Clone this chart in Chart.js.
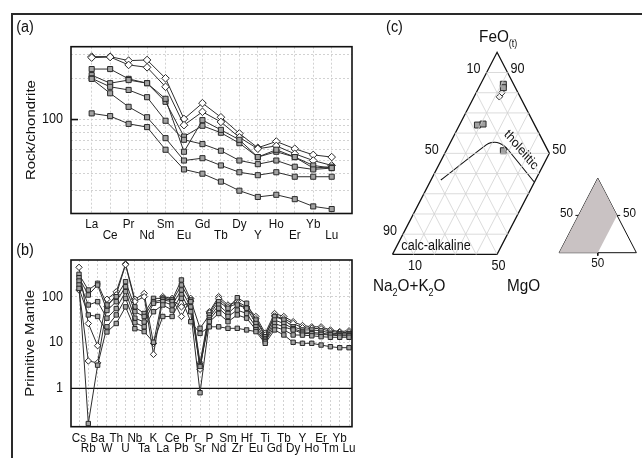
<!DOCTYPE html>
<html>
<head>
<meta charset="utf-8">
<title>REE, spider and AFM diagrams</title>
<script src="https://cdn.jsdelivr.net/npm/chart.js@4.4.1/dist/chart.umd.min.js"></script>
<style>
  html, body { margin: 0; padding: 0; background: #fff; }
  #fig { position: relative; width: 642px; height: 458px; overflow: hidden; }
  #fig canvas { position: absolute; left: 0; top: 0; }
  #frame { position: absolute; left: 11px; top: 13px; width: 700px; height: 500px;
           border-top: 2px solid #2a2a2a; border-left: 2px solid #2a2a2a; }
</style>
</head>
<body>
<div id="fig">
  <div id="frame"></div>
  <canvas id="chart-ree" width="642" height="458"></canvas>
  <canvas id="chart-pm" width="642" height="458"></canvas>
  <canvas id="chart-afm" width="642" height="458"></canvas>
</div>
<script>
// (a) chondrite normalised REE
const reeElements = ['La', 'Ce', 'Pr', 'Nd', 'Sm', 'Eu', 'Gd', 'Tb', 'Dy', 'Y', 'Ho', 'Er', 'Yb', 'Lu'];
const reeDiamond1 = [290, 290, 271, 274, 201, 101, 132, 104, 79, 62, 69, 61, 55, 53];
const reeDiamond2 = [285, 288, 252, 242, 174, 91, 114, 96, 74, 61, 64, 56, 50, 46];
const reeSquare1 = [235, 235, 199, 185, 135, 75, 90, 80, 67, 53, 58, 53, 44, 45];
const reeSquare2 = [212, 185, 195, 185, 142, 58, 99, 84, 71, 53, 60, 53, 46, 44];
const reeSquare3 = [201, 174, 165, 146, 98, 71, 66, 59, 50, 47, 50, 45, 43, 44];
const reeSquare4 = [199, 156, 124, 104, 73, 50, 52, 46, 41, 39, 41, 38, 38, 38];
const reeSquare5 = [111, 106, 93, 88, 60, 43, 40, 35, 30, 27, 28, 26, 23, 22];
const reeGridValues = [30, 40, 50, 60, 70, 80, 90, 100, 200, 300];
const reeTickLabels = [100];

// (b) primitive mantle normalised
const pmElements = ['Cs', 'Rb', 'Ba', 'W', 'Th', 'U', 'Nb', 'Ta', 'K', 'La', 'Ce', 'Pb', 'Pr', 'Sr', 'P',
  'Nd', 'Sm', 'Zr', 'Hf', 'Eu', 'Ti', 'Gd', 'Tb', 'Dy', 'Y', 'Ho', 'Er', 'Tm', 'Yb', 'Lu'];
const pmDiamond1 = [438, 26, 8.5, 88, 128, 518, 88, 118, 9.6, 100, 92, 37, 92, 3.6, 47,
  100, 66, 78, 60, 37, 16, 43, 37, 28.5, 23.5, 22, 22, 18.8, 17.3, 18];
const pmDiamond2 = [140, 3.95, 3.6, 60, 110, 500, 78, 100, 5.5, 92, 85, 60, 80, 2.6, 44,
  90, 60, 70, 56, 33, 14.5, 38, 33, 26, 21, 20.4, 20, 17.5, 16.5, 16.5];
const pmSquare1 = [308, 140, 196, 66, 100, 213, 60, 43, 92, 92, 85, 232, 85, 20.4, 40,
  78, 56, 95, 72, 31, 13.4, 37, 31, 22, 18.8, 18.8, 18, 16, 15.5, 15.5];
const pmSquare2 = [260, 109, 180, 50, 78, 165, 47, 37, 78, 85, 78, 180, 78, 3.2, 35,
  66, 43, 66, 56, 26, 12, 31, 26, 20, 17, 16.5, 16, 15, 14.6, 14.6];
const pmSquare3 = [220, 66, 78, 34, 55, 129, 34, 28, 72, 78, 66, 140, 60, 3.0, 31,
  56, 37, 51, 43, 22, 11.2, 26, 22, 18.8, 15.9, 15.5, 15, 14.6, 14, 14];
const pmSquare4 = [180, 0.17, 3.2, 22, 40, 92, 27, 22, 47, 66, 51, 110, 47, 0.8, 28.5,
  43, 28.5, 40, 34, 19, 10.5, 22, 18.8, 14.6, 14.5, 14, 13.4, 13, 13, 13];
const pmSquare5 = [152, 40, 37, 17, 26, 60, 20, 17.3, 10.1, 37, 37, 92, 28.5, 15.8, 22,
  22, 20.4, 20.4, 18.8, 17.3, 9.6, 18.8, 14.6, 10.1, 9.6, 9.6, 8.8, 8.1, 7.7, 7.7];
const pmTickLabels = [100, 10, 1];

// (c) AFM, percent Na2O+K2O (A), FeOt (F), MgO (M)
const afmSquaresA = [4.9, 5.75, 27.4, 24.45, 21.35];
const afmSquaresF = [84.2, 82.5, 64.0, 64.5, 51.3];
const afmSquaresM = [10.9, 11.75, 8.6, 11.05, 27.35];
const afmDiamondsA = [7.7, 9.9];
const afmDiamondsF = [80.0, 78.0];
const afmDiamondsM = [12.3, 12.1];
const boundaryA = [58.5, 28.1, 25.2, 22.3, 20.45, 19.1, 14.4];
const boundaryF = [36.8, 54.2, 55.3, 55.4, 54.4, 52.4, 36.0];
const boundaryM = [4.7, 17.7, 19.5, 22.3, 25.15, 28.5, 49.6];
const afmGridSteps = [10, 20, 30, 40, 50, 60, 70, 80, 90];

const INK = '#111111';
const GRID = '#d2d2d2';
const SERIES_LINE = '#2e2e2e';
const SQUARE_FILL = '#a2a2a2';
const FONT = '"Liberation Sans", Arial, sans-serif';
const SQUEEZE = 0.9; // the original artwork is a little condensed sideways

function text(ctx, s, x, y, size, align, angle) {
  ctx.save();
  ctx.translate(x, y);
  ctx.scale(SQUEEZE, 1);
  if (angle) ctx.rotate(angle);
  ctx.font = size + 'px ' + FONT;
  ctx.fillStyle = INK;
  ctx.textAlign = align || 'center';
  ctx.textBaseline = 'middle';
  ctx.fillText(s, 0, 0);
  ctx.restore();
}

// text with subscripts, x = left edge, y = baseline
function richText(ctx, parts, x, y, size) {
  ctx.save();
  ctx.translate(x, y);
  ctx.scale(SQUEEZE, 1);
  ctx.fillStyle = INK;
  ctx.textAlign = 'left';
  ctx.textBaseline = 'alphabetic';
  let cx = 0;
  parts.forEach(([t, sub]) => {
    ctx.font = (sub ? Math.round(size * 0.6) : size) + 'px ' + FONT;
    ctx.fillText(t, cx, sub ? size * 0.28 : 0);
    cx += ctx.measureText(t).width;
  });
  ctx.restore();
}

function spiderSets(series, sqR, diaR) {
  return series.map(s => ({
    data: s.vals.map((v, i) => ({ x: i, y: v })),
    borderColor: SERIES_LINE,
    borderWidth: 1,
    tension: 0,
    pointStyle: s.dia ? 'rectRot' : 'rect',
    pointRadius: s.dia ? diaR : sqR,
    pointBackgroundColor: s.dia ? '#ffffff' : SQUARE_FILL,
    pointBorderColor: '#2a2a2a',
    pointBorderWidth: 1,
  }));
}

function spiderScales(cats, xMin, xMax, yMin, yMax, gridValues, hideAt) {
  return {
    x: {
      type: 'linear', min: xMin, max: xMax,
      afterBuildTicks: s => { s.ticks = cats.map((_, i) => ({ value: i })); },
      afterFit: s => { s.height = 0; },
      ticks: { display: false },
      grid: { color: GRID, lineWidth: 1, drawTicks: false },
      border: { display: false, dash: [2, 2] },
    },
    y: {
      type: 'logarithmic', min: yMin, max: yMax,
      afterBuildTicks: s => { s.ticks = gridValues.map(v => ({ value: v })); },
      afterFit: s => { s.width = 0; },
      ticks: { display: false },
      grid: { color: c => (c.tick && c.tick.value === hideAt ? 'rgba(0,0,0,0)' : GRID), lineWidth: 1, drawTicks: false },
      border: { display: false, dash: [2, 2] },
    },
  };
}

function baseOptions(padding) {
  return {
    responsive: false, animation: false, devicePixelRatio: 1, events: [],
    layout: { padding },
    plugins: { legend: { display: false }, tooltip: { enabled: false } },
  };
}

function drawBox(ctx, a) {
  ctx.save();
  ctx.strokeStyle = INK;
  ctx.lineWidth = 1.6;
  ctx.strokeRect(a.left, a.top, a.right - a.left, a.bottom - a.top);
  ctx.restore();
}

// ---------- (a)
new Chart(document.getElementById('chart-ree'), {
  type: 'line',
  data: {
    datasets: spiderSets([
      { vals: reeSquare5 }, { vals: reeSquare4 }, { vals: reeSquare3 }, { vals: reeSquare2 }, { vals: reeSquare1 },
      { vals: reeDiamond2, dia: true }, { vals: reeDiamond1, dia: true },
    ], 3.6, 3.8),
  },
  options: Object.assign(baseOptions({ left: 71, top: 46.7, right: 290, bottom: 244.5 }), {
    scales: spiderScales(reeElements, -1.12, 14.1, 20.4, 343, reeGridValues, null),
  }),
  plugins: [{
    id: 'reeDecor',
    afterDraw(chart) {
      const { ctx, chartArea: a, scales: { x, y } } = chart;
      drawBox(ctx, a);
      reeTickLabels.forEach(v => {
        const py = y.getPixelForValue(v);
        ctx.save();
        ctx.strokeStyle = INK; ctx.lineWidth = 1.6;
        ctx.beginPath(); ctx.moveTo(a.left, py); ctx.lineTo(a.left + 7, py); ctx.stroke();
        ctx.restore();
        text(ctx, String(v), a.left - 8, py, 14, 'right');
      });
      reeElements.forEach((el, i) => text(ctx, el, x.getPixelForValue(i), a.bottom + (i % 2 ? 22 : 10.5), 13));
      text(ctx, 'Rock/chondrite', 31, (a.top + a.bottom) / 2, 15, 'center', -Math.PI / 2);
      text(ctx, '(a)', 25, 28, 16);
    },
  }],
});

// ---------- (b)
new Chart(document.getElementById('chart-pm'), {
  type: 'line',
  data: {
    datasets: spiderSets([
      { vals: pmSquare5 }, { vals: pmSquare4 }, { vals: pmSquare3 }, { vals: pmSquare2 }, { vals: pmSquare1 },
      { vals: pmDiamond2, dia: true }, { vals: pmDiamond1, dia: true },
    ], 3.1, 3.2),
  },
  options: Object.assign(baseOptions({ left: 71, top: 260, right: 290, bottom: 31.3 }), {
    scales: spiderScales(pmElements, -0.86, 29.32, 0.145, 633, pmTickLabels, 1),
  }),
  plugins: [{
    id: 'pmDecor',
    beforeDatasetsDraw(chart) {
      const { ctx, chartArea: a, scales: { y } } = chart;
      const py = y.getPixelForValue(1);
      ctx.save();
      ctx.strokeStyle = INK; ctx.lineWidth = 1.2;
      ctx.beginPath(); ctx.moveTo(a.left, py); ctx.lineTo(a.right, py); ctx.stroke();
      ctx.restore();
    },
    afterDraw(chart) {
      const { ctx, chartArea: a, scales: { x, y } } = chart;
      drawBox(ctx, a);
      pmTickLabels.forEach(v => text(ctx, String(v), a.left - 8, y.getPixelForValue(v), 14, 'right'));
      pmElements.forEach((el, i) => text(ctx, el, x.getPixelForValue(i), a.bottom + (i % 2 ? 21.7 : 11.5), 13));
      text(ctx, 'Primitive Mantle', 30, (a.top + a.bottom) / 2, 15, 'center', -Math.PI / 2);
      text(ctx, '(b)', 25, 250.5, 16);
    },
  }],
});

// ---------- (c) AFM ternary, x = MgO + FeOt/2, y = FeOt
const tern = (a, f, m) => ({ x: m + f / 2, y: f });
const INSET = { x0: 79.7, y0: 0.84, s: 0.369 };
const ternInset = (a, f, m) => ({ x: INSET.x0 + INSET.s * (m + f / 2), y: INSET.y0 + INSET.s * f });
const fieldCorners = [[100, 0, 0], [0, 100, 0], [0, 50, 50], [50, 0, 50], [100, 0, 0]];
const fullCorners = [[100, 0, 0], [0, 100, 0], [0, 0, 100], [100, 0, 0]];

function lineSet(data, color, width, extra) {
  return Object.assign({
    data, showLine: true, borderColor: color, borderWidth: width,
    pointRadius: 0, fill: false, clip: false, tension: 0,
  }, extra || {});
}

const afmSets = [];
afmGridSteps.forEach(k => {
  const mEnd = Math.min(50, 100 - k);
  afmSets.push(lineSet([tern(100 - k, k, 0), tern(100 - k - mEnd, k, mEnd)], GRID, 0.8));
  afmSets.push(lineSet([tern(k, 100 - k, 0), tern(k, 100 - k - mEnd, mEnd)], GRID, 0.8));
  if (k < 50) afmSets.push(lineSet([tern(100 - k, 0, k), tern(0, 100 - k, k)], GRID, 0.8));
});
afmSets.push(lineSet(fieldCorners.map(c => tern(...c)), INK, 1.3));
afmSets.push(lineSet(boundaryF.map((f, i) => tern(boundaryA[i], f, boundaryM[i])), INK, 1.1, { tension: 0.25 }));
afmSets.push(lineSet(fieldCorners.map(c => ternInset(...c)), 'rgba(0,0,0,0)', 0,
  { fill: 'shape', backgroundColor: '#c9c2c3' }));
afmSets.push(lineSet(fullCorners.map(c => ternInset(...c)), INK, 1));
[[[50, 50, 0], [54, 50, -4]], [[0, 50, 50], [-4, 50, 54]], [[50, 0, 50], [52, -4, 52]]]
  .forEach(seg => afmSets.push(lineSet(seg.map(c => ternInset(...c)), INK, 1)));
afmSets.push({
  data: afmSquaresF.map((f, i) => tern(afmSquaresA[i], f, afmSquaresM[i])),
  showLine: false, clip: false, pointStyle: 'rect', pointRadius: 4.2,
  pointBackgroundColor: SQUARE_FILL, pointBorderColor: '#2a2a2a', pointBorderWidth: 1,
});
afmSets.push({
  data: afmDiamondsF.map((f, i) => tern(afmDiamondsA[i], f, afmDiamondsM[i])),
  showLine: false, clip: false, pointStyle: 'rectRot', pointRadius: 3.3,
  pointBackgroundColor: '#ffffff', pointBorderColor: '#2a2a2a', pointBorderWidth: 1,
});

new Chart(document.getElementById('chart-afm'), {
  type: 'scatter',
  data: { datasets: afmSets },
  options: Object.assign(baseOptions({ left: 392.5, top: 52.3, right: 0, bottom: 203.6 }), {
    scales: {
      x: { type: 'linear', display: false, min: 0, max: 116.8 },
      y: { type: 'linear', display: false, min: 0, max: 100 },
    },
  }),
  plugins: [{
    id: 'afmDecor',
    afterDraw(chart) {
      const { ctx, scales: { x, y } } = chart;
      const P = (a, f, m) => [x.getPixelForValue(m + f / 2), y.getPixelForValue(f)];
      const PI = (a, f, m) => { const q = ternInset(a, f, m); return [x.getPixelForValue(q.x), y.getPixelForValue(q.y)]; };
      text(ctx, '(c)', 394.5, 28, 16);
      // edge numbers
      [[10, 90, 0, '10'], [50, 50, 0, '50'], [90, 10, 0, '90']].forEach(([a, f, m, s]) => {
        const [px, py] = P(a, f, m); text(ctx, s, px - 13, py - 3, 14);
      });
      [[0, 90, 10, '90'], [0, 50, 50, '50']].forEach(([a, f, m, s]) => {
        const [px, py] = P(a, f, m); text(ctx, s, px + 10, py - 3, 14);
      });
      [[90, 0, 10, '10'], [50, 0, 50, '50']].forEach(([a, f, m, s]) => {
        const [px, py] = P(a, f, m); text(ctx, s, px + 1.5, py + 12, 14);
      });
      // apex titles
      const [fx, fy] = P(0, 100, 0);
      richText(ctx, [['FeO', false], ['(t)', true]], fx - 18, fy - 10.5, 17);
      const [ax, ay] = P(100, 0, 0);
      richText(ctx, [['Na', false], ['2', true], ['O+K', false], ['2', true], ['O', false]], ax - 19.5, ay + 37, 17);
      const [mx, my] = P(50, 0, 50);
      richText(ctx, [['MgO', false]], mx + 10, my + 37, 17);
      // field names
      text(ctx, 'calc-alkaline', 436, 246, 14);
      text(ctx, 'tholeiitic', 521, 150, 13.5, 'center', 0.82);
      // inset numbers
      let q = PI(50, 50, 0); text(ctx, '50', q[0] - 12, q[1] - 2, 13);
      q = PI(0, 50, 50); text(ctx, '50', q[0] + 12.5, q[1] - 2, 13);
      q = PI(50, 0, 50); text(ctx, '50', q[0], q[1] + 10.5, 13);
    },
  }],
});
</script>
</body>
</html>
